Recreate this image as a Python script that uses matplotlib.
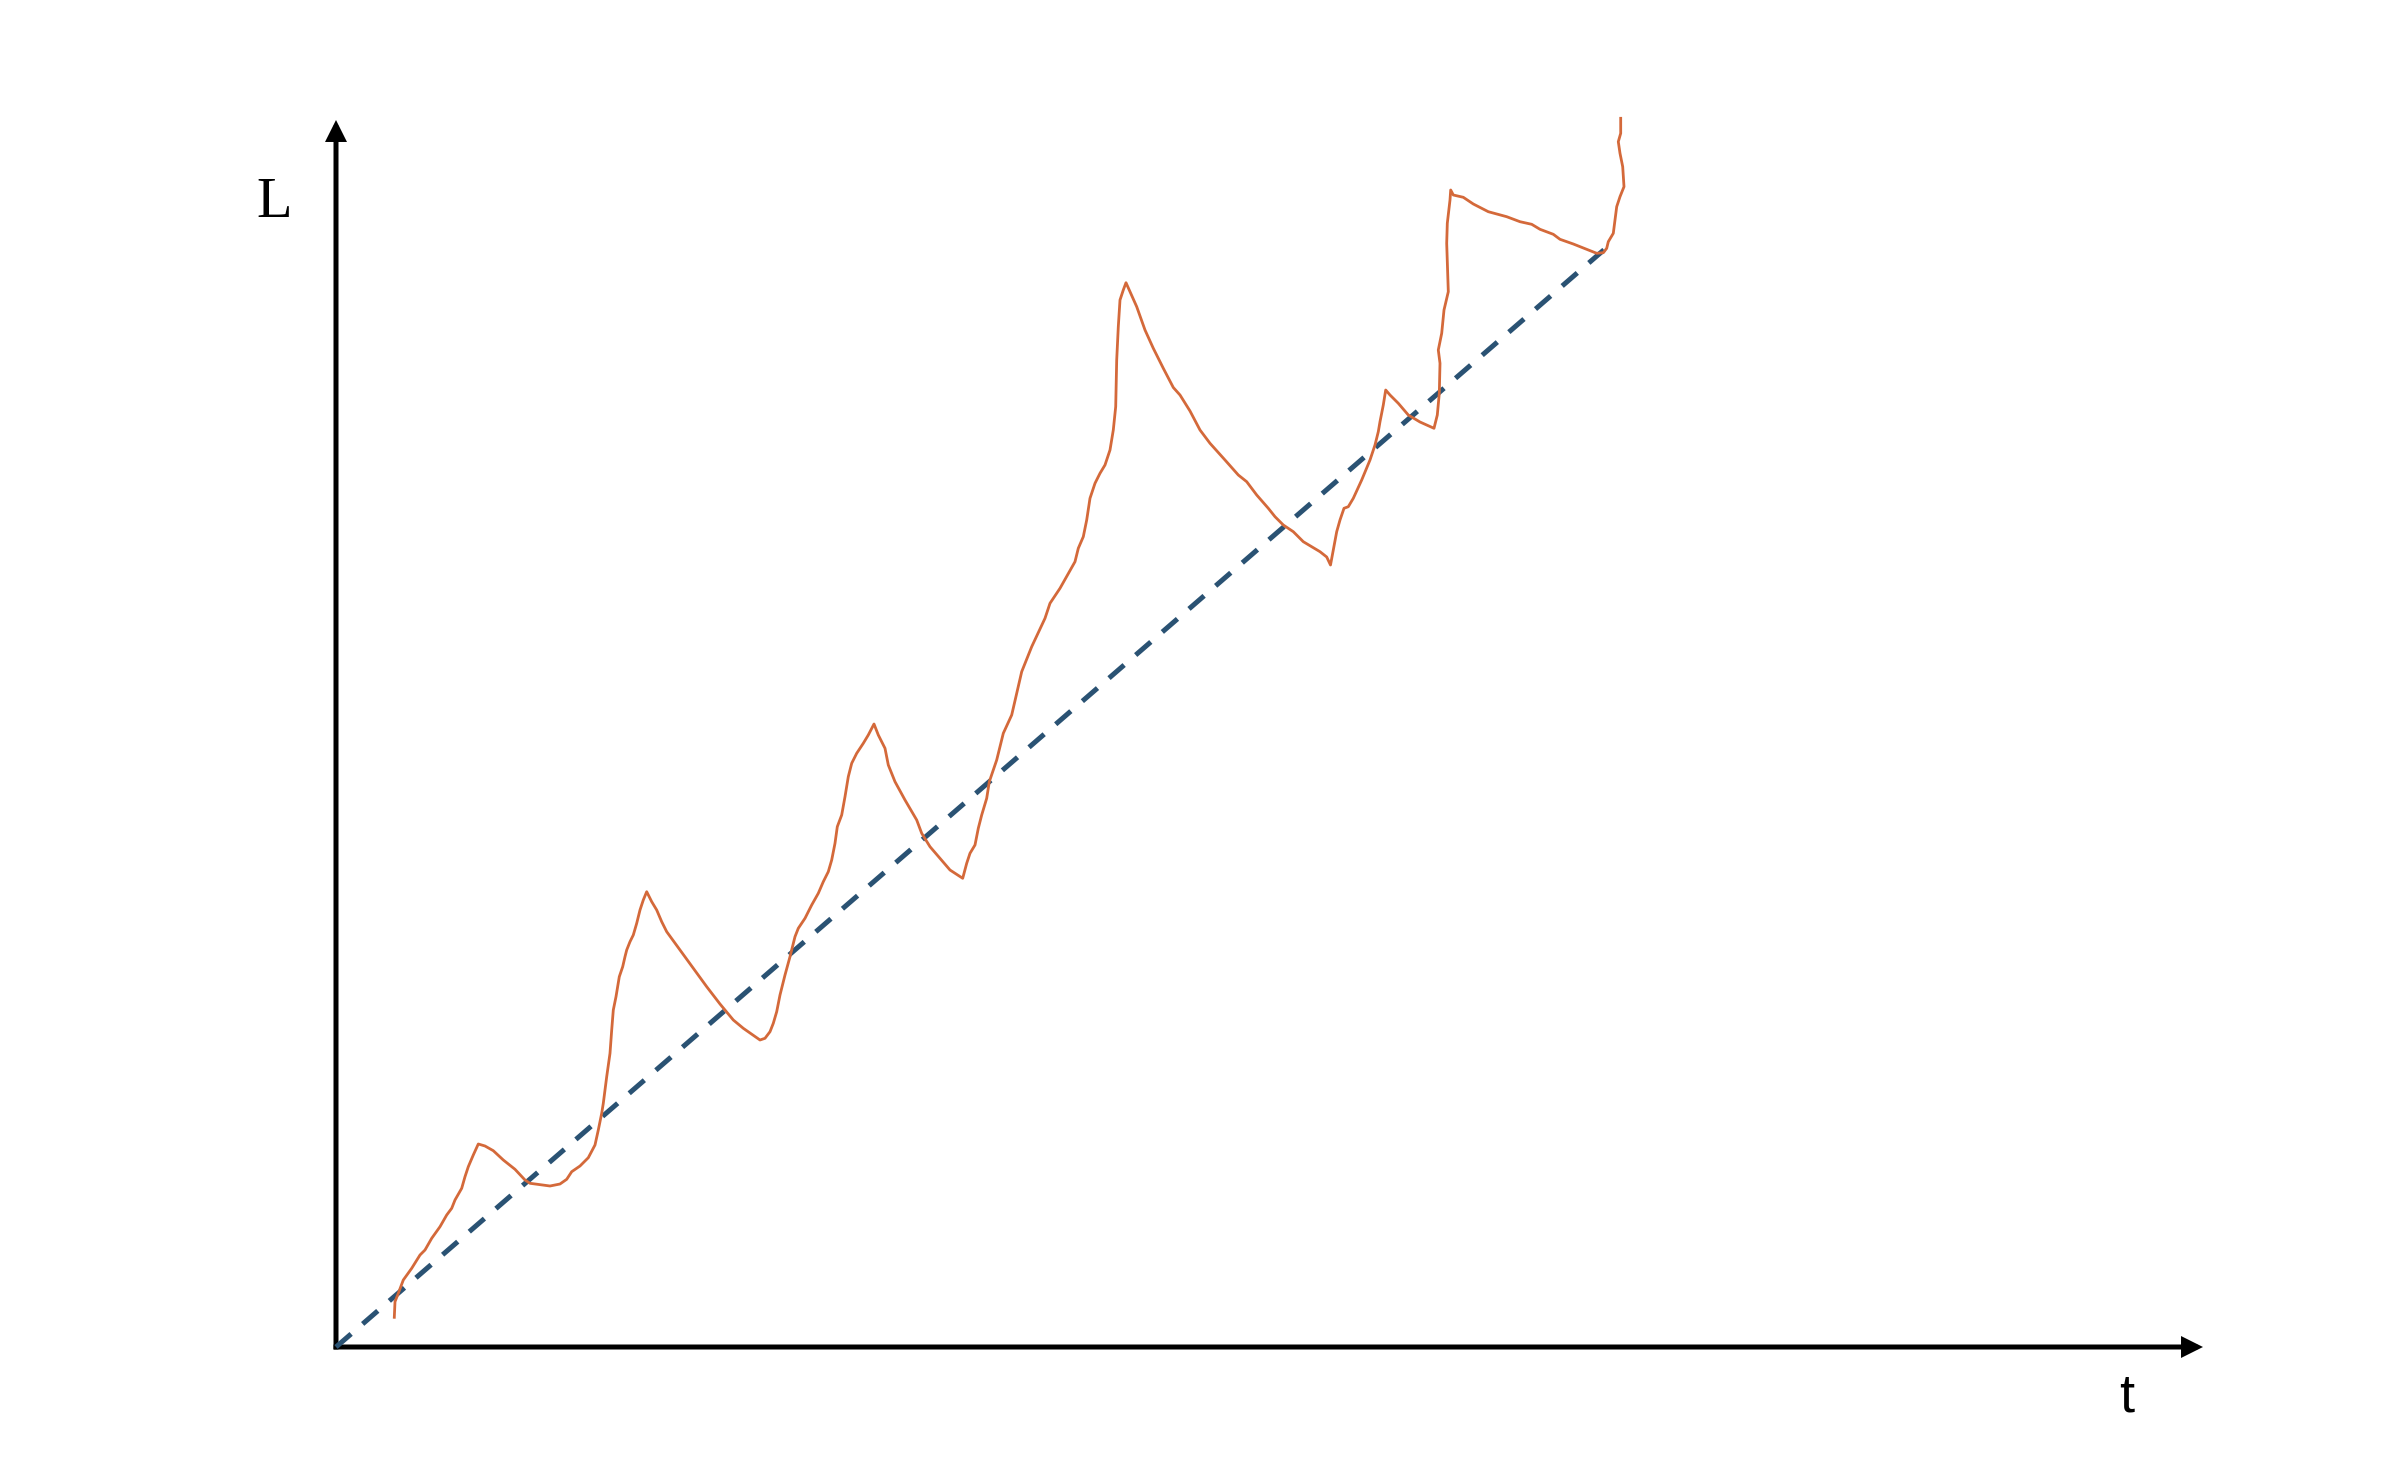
import matplotlib
matplotlib.use("Agg")
import matplotlib.pyplot as plt

# ---- data (t, L), origin at the axes corner ----
path_t = [58.3, 59, 62.3, 67.3, 75.7, 84, 89, 95.7, 104, 110.7, 115.7, 119, 125.7, 129, 132.3, 137.3, 142.3,
          149, 157.3, 167.3, 179, 189, 194, 214, 224, 230.7, 235.7, 244, 252.3, 259, 262.3, 265.7,
          267.3, 270.7, 274, 275.7, 277.3, 280, 283.3, 286.7, 289, 290.7, 294, 297.3, 300.7, 304, 307.3, 310.7,
          315.7, 320.7, 325.7, 330.7, 344, 357.3, 370.7, 384, 397.3, 407.3, 424,
          429, 434, 437.3, 440.7, 444, 449, 454, 459, 462.3, 469, 475.7, 482.3, 487.3, 492.3, 495.7, 499,
          501.3, 505.7, 509, 512.3, 515.7, 520.7, 527.3, 532.3, 538,
          542.3, 549, 552.3, 559, 569, 580.7, 585.7, 594, 604, 614, 626.7,
          630.7, 634, 639, 642.3, 645.7, 650.7, 653.3, 657.3, 660.7, 667.3, 675.7, 680.7, 685.7, 695.7, 709,
          714, 724, 739, 742.3, 747.3, 750.7, 754, 759, 764, 769, 774, 777.3, 779.7, 780.7, 782.3, 784, 787.3, 790,
          794, 800.7, 809, 817.3, 827.3, 837.3, 844, 854, 864, 874, 889, 902.3, 910.7, 920.7, 932.3, 939, 947.3,
          957.3, 967.3, 984, 990.7, 994.5,
          997.3, 1000.7, 1004, 1008, 1012.3, 1017.3, 1025.7, 1034, 1039, 1042.3, 1044, 1047.3, 1049.7,
          1054, 1062.3, 1072.3, 1084, 1098,
          1101.3, 1103.3, 1104, 1102.3, 1105.7, 1108, 1112.3, 1110.7, 1111.3, 1114, 1114.7,
          1117.3, 1127.3, 1137.3, 1152.3, 1170.7, 1184, 1195.7, 1204, 1217.3, 1224, 1237.3, 1250.7, 1260.7, 1267.3,
          1270.7, 1272.3, 1277.3, 1279, 1280.7, 1284, 1288, 1286.7, 1284, 1282.3, 1284.7, 1284.7]
path_L = [29.7, 45.3, 53.7, 67, 78.7, 92, 97, 108.7, 120.3, 132, 138.7, 147, 158.7, 170.3, 180.3, 192, 203,
          201, 196.3, 187, 177.7, 167, 163.7, 161, 163, 167.7, 175.3, 181, 189.3, 202, 217, 233.7,
          243.7, 270.3, 293.7, 317, 337, 350.3, 370.3, 380.3, 390.3, 397, 405.3, 412, 423.7, 437, 447, 455.3,
          445.3, 437, 425.3, 415.3, 397, 378.7, 360.3, 343, 327, 318.7, 307,
          308.7, 315.3, 323.7, 335.3, 352, 372, 390.3, 410.3, 418.7, 428.7, 442, 453.7, 465.3, 475.3, 487, 503.7,
          520.3, 532, 550.3, 570.3, 583.7, 593.7, 603.7, 612, 623,
          612, 598.7, 582, 565.3, 547, 527, 513.7, 500.3, 488.7, 477, 468.7,
          483.7, 493.7, 502, 518.7, 532, 548.7, 565.3, 577, 587, 613.7, 632, 653.7, 675.3, 700.3, 728.7,
          743.7, 758.7, 785.3, 798.7, 810.3, 827, 848.7, 863.7, 873.7, 882, 897, 917, 940.3, 987, 1020.3, 1047, 1057, 1064.3,
          1055.3, 1040.3, 1017, 998.7, 978.7, 959.5, 952, 936, 917, 903.7, 887, 872, 865.3, 852, 838.7, 830.3, 822,
          815.3, 805.3, 795.3, 790, 782,
          797, 815.3, 827, 838.7, 840.3, 848.7, 867, 887, 902, 915.3, 925.3, 942, 957,
          952, 943.7, 932, 925, 918.7,
          932, 953.7, 983.7, 997, 1013.7, 1037, 1055.3, 1103.7, 1123.7, 1147, 1157,
          1152, 1149.7, 1143, 1135.3, 1130.3, 1125.3, 1122.7, 1117.7, 1112.7, 1107.7, 1103, 1097.7, 1093.7, 1094.3,
          1098.7, 1105.3, 1113.7, 1127, 1140.3, 1150.3, 1160.3, 1180.3, 1193.7, 1205.3, 1213.7, 1228.7]

trend_t = [0, 1277]
trend_L = [0, 1105]

t_max = 1867
L_max = 1227

axis_labels = ["t", "L"]

ORANGE = "#d4693a"
BLUE = "#2a5273"

fig = plt.figure(figsize=(23.94, 14.80), dpi=100)
ax = fig.add_axes([336 / 2394, 133 / 1480, 1867 / 2394, 1227 / 1480])
ax.set_xlim(0, t_max)
ax.set_ylim(0, L_max)
for s in ax.spines.values():
    s.set_visible(False)
ax.set_xticks([])
ax.set_yticks([])
ax.patch.set_alpha(0)

# axes arrows
arrow_kw = dict(arrowstyle="-|>", lw=3.6, color="black", mutation_scale=25,
                shrinkA=0, shrinkB=0, joinstyle="miter", capstyle="butt")
ax.annotate("", xy=(1, 0), xytext=(-0.0013, 0), xycoords="axes fraction",
            textcoords="axes fraction", arrowprops=arrow_kw, annotation_clip=False)
ax.annotate("", xy=(0, 1), xytext=(0, -0.002), xycoords="axes fraction",
            textcoords="axes fraction", arrowprops=arrow_kw, annotation_clip=False)

# trend line
ax.plot(trend_t, trend_L, color=BLUE, lw=3.6, linestyle=(0, (4, 3.05)),
        dash_capstyle="butt", clip_on=False, zorder=3)

# sample path
ax.plot(path_t, path_L, color=ORANGE, lw=2.0, clip_on=False, zorder=4,
        solid_joinstyle="round")

# axis labels
fig.text(274 / 2394, 1 - 216.7 / 1480, axis_labels[1], ha="center", va="baseline",
         fontsize=42, family="Liberation Serif")
fig.text(2127 / 2394, 1 - 1411.7 / 1480, axis_labels[0], ha="center", va="baseline",
         fontsize=39, family="Liberation Sans")

fig.savefig("out.png", dpi=100)
